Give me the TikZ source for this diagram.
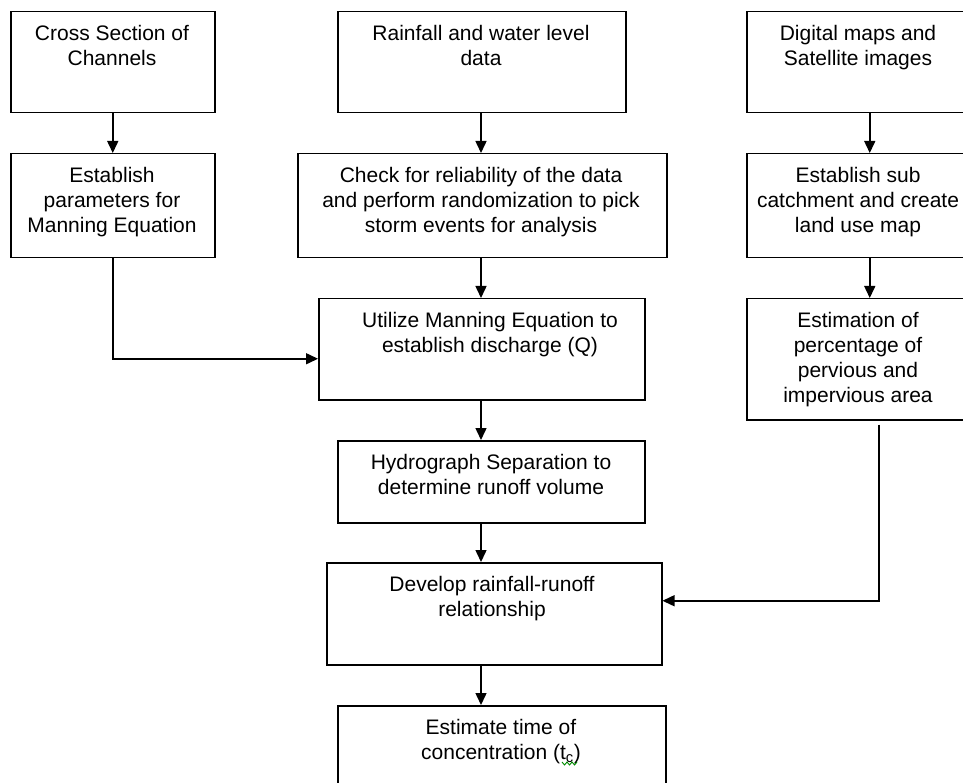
\documentclass[tikz,border=0pt]{standalone}
\usepackage{fontspec}
\setmainfont{Liberation Sans}
\usetikzlibrary{arrows.meta}
\begin{document}
\begin{tikzpicture}[x=1pt,y=-1pt,
  box/.style={draw=black, line width=1.5pt, fill=none, inner sep=0pt, anchor=north west},
  txt/.style={font=\fontsize{21}{25}\selectfont, align=center, inner sep=0pt, anchor=north},
  link/.style={draw=black, line width=1.5pt, -{Triangle[length=12pt,width=11pt]}},
  squig/.style={draw=green!55!black, line width=0.9pt}]
\useasboundingbox (0,0) rectangle (963,783);
\clip (0,0) rectangle (963,783);
\fill[white] (0,0) rectangle (963,783);
\coordinate (mid) at (481,0);
% left column
\node[box, minimum width=204pt, minimum height=101pt] (cross) at (10,11) {};
\node[txt] (crosst) at (112,25) {Cross Section of\\Channels};
\node[box, minimum width=204pt, minimum height=104pt] (params) at (10,153) {};
\node[txt] (paramst) at (112,167) {Establish\\parameters for\\Manning Equation};
% middle column
\node[box, minimum width=288pt, minimum height=101pt] (rain) at (337,11) {};
\node[txt] (raint) at (481,25) {Rainfall and water level\\data};
\node[box, minimum width=369pt, minimum height=104pt] (check) at (297,153) {};
\node[txt] (checkt) at (481,167) {Check for reliability of the data\\and perform randomization to pick\\storm events for analysis};
\node[box, minimum width=326pt, minimum height=101pt] (util) at (318,298) {};
\node[txt] (utilt) at (490,312) {Utilize Manning Equation to\\establish discharge (Q)};
\node[box, minimum width=307pt, minimum height=82pt] (hydro) at (337,440) {};
\node[txt] (hydrot) at (491,454) {Hydrograph Separation to\\determine runoff volume};
\node[box, minimum width=335pt, minimum height=102pt] (devel) at (326,562) {};
\node[txt] (develt) at (492,576) {Develop rainfall-runoff\\relationship};
\node[box, minimum width=328pt, minimum height=110pt] (estim) at (337,705) {};
\node[txt] (estimt) at (501,719) {Estimate time of\\concentration (t\textsubscript{c})};
% right column
\node[box, minimum width=224pt, minimum height=101pt] (digi) at (746,11) {};
\node[txt] (digit) at (858,25) {Digital maps and\\Satellite images};
\node[box, minimum width=224pt, minimum height=104pt] (subc) at (746,153) {};
\node[txt] (subct) at (858,167) {Establish sub\\catchment and create\\land use map};
\node[box, minimum width=224pt, minimum height=121pt] (perc) at (746,298) {};
\node[txt] (perct) at (858,312) {Estimation of\\percentage of\\pervious and\\impervious area};
% connectors
\draw[link] (cross.south) -- (params.north);
\draw[link] (mid |- rain.south) -- (mid |- check.north);
\draw[link] ([xshift=11pt]digi.south) -- ([xshift=11pt]subc.north);
\draw[link] (mid |- check.south) -- (mid |- util.north);
\draw[link] (params.south) |- ([yshift=-9.5pt]util.west);
\draw[link] ([xshift=11pt]subc.south) -- ([xshift=11pt]perc.north);
\draw[link] (mid |- util.south) -- (mid |- hydro.north);
\draw[link] ([xshift=20pt,yshift=-4pt]perc.south) |- ([yshift=13pt]devel.east);
\draw[link] (mid |- hydro.south) -- (mid |- devel.north);
\draw[link] (mid |- devel.south) -- (mid |- estim.north);
% spell-check squiggle under the subscript
\draw[squig] (562,762) -- (564.5,765) -- (567,762) -- (569.5,765) -- (572,762) -- (574.5,765) -- (577,762);
\end{tikzpicture}
\end{document}
